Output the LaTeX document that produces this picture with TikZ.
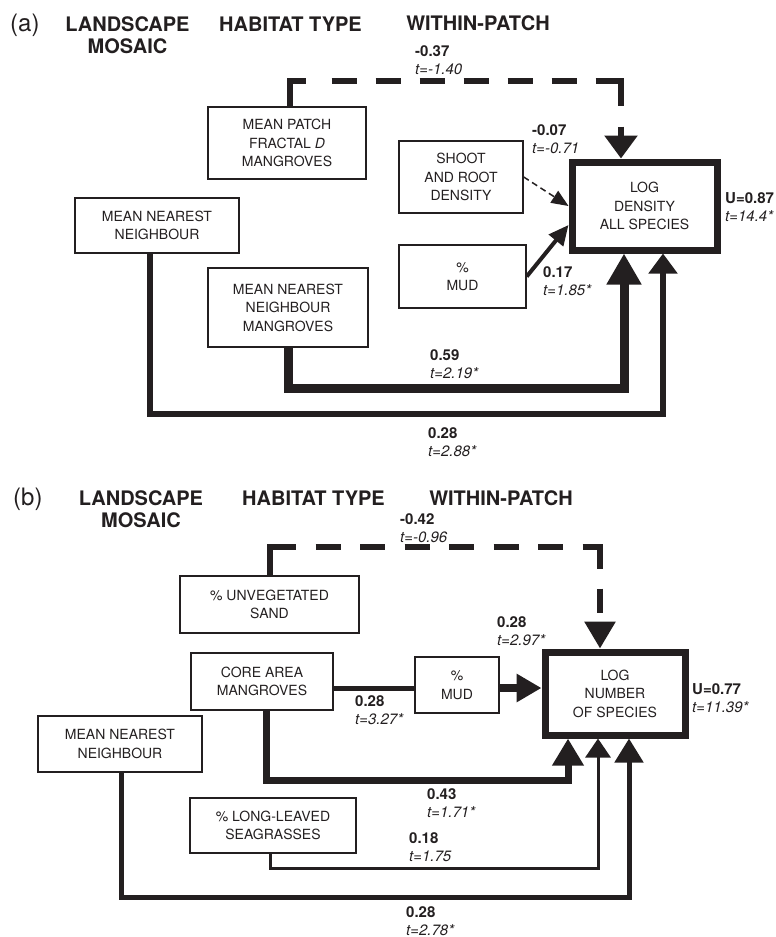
\documentclass[tikz,border=0pt]{standalone}
\usepackage{fontspec}
\setmainfont{TeX Gyre Heros}
\usepackage{tikz}
\usetikzlibrary{positioning,calc,arrows.meta}
\definecolor{ink}{HTML}{231F20}
\tikzstyle{link} = [draw=ink]

\begin{document}
\begin{tikzpicture}[x=1pt,y=-1pt,
            var/.style = {draw=ink, line width=1.4pt, inner sep=0pt,
              align=center, text=ink, font=\fontsize{14}{18.5}\selectfont},
            resp/.style = {var, line width=7pt},
            coef/.style = {anchor=west, inner sep=0pt, align=left,
              text=ink, font=\fontsize{15}{18}\selectfont},
            head/.style = {inner sep=0pt, align=center, text=ink,
              font=\fontsize{20}{22}\selectfont\bfseries},
            panel/.style = {inner sep=0pt, anchor=base west, text=ink,
              font=\fontsize{24}{26}\selectfont}]
            \useasboundingbox (0,0) rectangle (776,937);
            % panel (a)
            \node[panel] (pa) at (10,31) {(a)};
            \node[head, anchor=north] (ha1) at (127.5,16.6) {LANDSCAPE\\MOSAIC};
            \node[head, anchor=base] (ha2) at (290.5,31) {HABITAT TYPE};
            \node[head, anchor=base] (ha3) at (478,30) {WITHIN-PATCH};
            \node[var, minimum width=158pt, minimum height=72pt] (patch) at (287,143) {MEAN PATCH\\FRACTAL \textit{D}\\MANGROVES};
            \node[var, minimum width=124pt, minimum height=72pt] (shoot) at (461,177) {SHOOT\\AND ROOT\\DENSITY};
            \node[var, minimum width=127pt, minimum height=63pt] (muda) at (462.5,276.5) {\%\\MUD};
            \node[resp, minimum width=145pt, minimum height=88pt] (loga) at (644.5,206) {LOG\\DENSITY\\ALL SPECIES};
            \node[var, minimum width=164pt, minimum height=55pt] (mnna) at (157,225.5) {MEAN NEAREST\\NEIGHBOUR};
            \node[var, minimum width=160pt, minimum height=79pt] (mnnm) at (288,307.5) {MEAN NEAREST\\NEIGHBOUR\\MANGROVES};
            \coordinate (ka) at (621,81);
            \path [link, line width=6pt, dash pattern=on 41pt off 26pt on 25pt off 19pt on 25pt off 19pt on 25pt off 19pt on 25pt off 19pt on 25pt off 19pt on 25pt off 19pt on 50pt off 21pt on 40pt off 10pt, -{Triangle[length=23pt,width=32pt]}] (patch.north -| 290,0) |- (ka) -- (ka |- loga.north);
            \path [link, line width=1.5pt, dash pattern=on 6pt off 4pt, -{Triangle[length=17pt,width=14pt]}] (shoot.east) -- (loga.west);
            \path [link, line width=4pt, -{Triangle[length=20pt,width=18pt]}] (muda.east) -- (loga.west |- 0,225);
            \path [link, line width=9pt, -{Triangle[length=31pt,width=33pt]}] (mnnm.south) |- (624,388) -- (loga.south -| 624,0);
            \path [link, line width=5.5pt, -{Triangle[length=20pt,width=28pt]}] (mnna.south -| 150,0) |- (663,414) -- (loga.south -| 663,0);
            \node[coef] (ca1) at (415,60) {\textbf{-0.37}\\\textit{t=-1.40}};
            \node[coef] (ca2) at (532,139) {\textbf{-0.07}\\\textit{t=-0.71}};
            \node[coef] (ca3) at (543,281) {\textbf{0.17}\\\textit{t=1.85*}};
            \node[coef] (ca4) at (725,207.5) {\textbf{U=0.87}\\\textit{t=14.4*}};
            \node[coef] (ca5) at (430,364) {\textbf{0.59}\\\textit{t=2.19*}};
            \node[coef] (ca6) at (428,442) {\textbf{0.28}\\\textit{t=2.88*}};
            % panel (b)
            \node[panel] (pb) at (13,505) {(b)};
            \node[head, anchor=north] (hb1) at (141,490.6) {LANDSCAPE\\MOSAIC};
            \node[head, anchor=base] (hb2) at (313.5,505) {HABITAT TYPE};
            \node[head, anchor=base] (hb3) at (501,505) {WITHIN-PATCH};
            \node[var, minimum width=179pt, minimum height=57pt] (sand) at (269.5,604.5) {\% UNVEGETATED\\SAND};
            \node[var, minimum width=142pt, minimum height=57pt] (core) at (262,681.5) {CORE AREA\\MANGROVES};
            \node[var, minimum width=84pt, minimum height=56pt] (mudb) at (457,685) {\%\\MUD};
            \node[resp, minimum width=140pt, minimum height=83pt] (logb) at (615,693.5) {LOG\\NUMBER\\OF SPECIES};
            \node[var, minimum width=164pt, minimum height=56pt] (mnnb) at (120,744) {MEAN NEAREST\\NEIGHBOUR};
            \node[var, minimum width=166pt, minimum height=55pt] (seag) at (273,825.5) {\% LONG-LEAVED\\SEAGRASSES};
            \coordinate (kb) at (600,547);
            \path [link, line width=6pt, dash pattern=on 54pt off 20pt on 25pt off 19.5pt on 25pt off 19.5pt on 25pt off 19.5pt on 25pt off 19.5pt on 25pt off 19.5pt on 25pt off 19.5pt on 39pt off 20pt on 24pt off 20pt, -{Triangle[length=27pt,width=30pt]}] (sand.north -| 270,0) |- (kb) -- (kb |- logb.north);
            \path [link, line width=5pt] (core.east |- 0,688) -- (mudb.west |- 0,688);
            \path [link, line width=8pt, -{Triangle[length=25pt,width=27pt]}] (mudb.east |- 0,688) -- (logb.west |- 0,688);
            \path [link, line width=7pt, -{Triangle[length=27pt,width=30pt]}] (core.south -| 266,0) |- (568,780) -- (logb.south -| 568,0);
            \path [link, line width=3pt, -{Triangle[length=19pt,width=25pt]}] (seag.south -| 270,0) |- (598,868) -- (logb.south -| 598,0);
            \path [link, line width=5pt, -{Triangle[length=24pt,width=28pt]}] (mnnb.south -| 121,0) |- (629,897) -- (logb.south -| 629,0);
            \node[coef] (cb1) at (400,528) {\textbf{-0.42}\\\textit{t=-0.96}};
            \node[coef] (cb2) at (497,631.5) {\textbf{0.28}\\\textit{t=2.97*}};
            \node[coef] (cb3) at (355,710) {\textbf{0.28}\\\textit{t=3.27*}};
            \node[coef] (cb4) at (692,698) {\textbf{U=0.77}\\\textit{t=11.39*}};
            \node[coef] (cb5) at (427,803) {\textbf{0.43}\\\textit{t=1.71*}};
            \node[coef] (cb6) at (409,847.5) {\textbf{0.18}\\\textit{t=1.75}};
            \node[coef] (cb7) at (406,921) {\textbf{0.28}\\\textit{t=2.78*}};
            \end{tikzpicture}
\end{document}
